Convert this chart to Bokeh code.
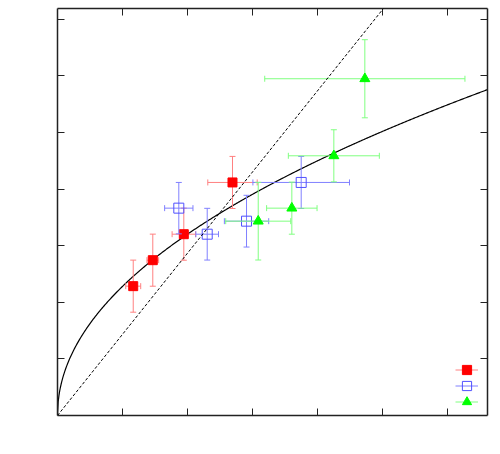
import numpy as np
from bokeh.plotting import figure
from bokeh.models import (Range1d, LinearAxis, FixedTicker, Slope, Legend,
                          LegendItem)
from bokeh.embed import file_html
from bokeh.resources import INLINE

# ---- data ----
red_x = [1.165, 1.466, 1.943, 2.692]
red_y = [2.285, 2.744, 3.203, 4.117]
red_xerr = [0.115, 0.09, 0.18, 0.38]
red_yerr = [0.46, 0.46, 0.46, 0.46]

blue_x = [1.866, 2.303, 2.908, 3.749]
blue_y = [3.663, 3.203, 3.433, 4.117]
blue_xerr = [0.218, 0.174, 0.341, 0.743]
blue_yerr = [0.454, 0.457, 0.457, 0.46]

green_x = [3.088, 3.605, 4.251, 4.728]
green_y = [3.433, 3.663, 4.588, 5.949]
green_xerr = [0.50, 0.388, 0.70, 1.54]
green_yerr = [0.686, 0.46, 0.46, 0.69]

x_ticks = [1, 2, 3, 4, 5, 6]
y_ticks = [1, 2, 3, 4, 5, 6, 7]
x_max = 6.615
y_max = 7.19

# model curve y = a * x**b and dashed diagonal y = k * x
curve_a = 2.281
curve_b = 0.49
diag_slope = 1.434

p = figure(frame_width=430, frame_height=407, output_backend="svg",
           toolbar_location=None, x_range=Range1d(0, x_max),
           y_range=Range1d(0, y_max), min_border_left=57, min_border_top=8,
           min_border_right=11, min_border_bottom=31)
p.grid.visible = False
p.outline_line_color = None
p.background_fill_color = "white"
p.border_fill_color = "white"

p.add_layout(LinearAxis(), "above")
p.add_layout(LinearAxis(), "right")
for ax in p.xaxis:
    ax.ticker = FixedTicker(ticks=x_ticks)
    ax.major_label_overrides = {t: "" for t in x_ticks}
for ax in p.yaxis:
    ax.ticker = FixedTicker(ticks=y_ticks)
    ax.major_label_overrides = {t: "" for t in y_ticks}
for ax in p.xaxis + p.yaxis:
    ax.major_tick_in = 7
    ax.major_tick_out = 0
    ax.minor_tick_line_color = None
    ax.axis_line_color = "#222222"
    ax.axis_line_width = 1.5
    ax.major_tick_line_color = "#222222"
    ax.major_label_standoff = 0

# curves
xs = np.linspace(0, x_max, 600)
p.line(xs, curve_a * xs ** curve_b, line_color="black", line_width=1.2)
p.add_layout(Slope(gradient=diag_slope, y_intercept=0, line_color="black",
                   line_width=1, line_dash="3 2"))

def series(xv, yv, xe, ye, color, barcolor, marker, fill, size):
    xv = np.array(xv); yv = np.array(yv); xe = np.array(xe); ye = np.array(ye)
    hx = p.segment(xv - xe, yv, xv + xe, yv, line_color=barcolor, line_width=1)
    p.segment(xv, yv - ye, xv, yv + ye, line_color=barcolor, line_width=1)
    p.scatter(np.concatenate([xv, xv]), np.concatenate([yv - ye, yv + ye]),
              marker="dash", size=6, line_color=barcolor, line_width=1)
    p.scatter(np.concatenate([xv - xe, xv + xe]), np.concatenate([yv, yv]),
              marker="dash", angle=np.pi / 2, size=6, line_color=barcolor,
              line_width=1)
    mk = p.scatter(xv, yv, marker=marker, size=size, line_color=color,
                   fill_color=fill, line_width=1)
    return [hx, mk]

r_red = series(red_x, red_y, red_xerr, red_yerr, "#ff0000", "#ff8080",
               "square", "#ff0000", 9)
r_blue = series(blue_x, blue_y, blue_xerr, blue_yerr, "#5050ff", "#8080ff",
                "square", None, 10)
r_green = series(green_x, green_y, green_xerr, green_yerr, "#00ff00", "#80ff80",
                 "triangle", "#00ff00", 10)

# one legend box per series, stacked in the lower right corner
for rends, ypos in [(r_red, 34), (r_blue, 18), (r_green, 2)]:
    lg = Legend(items=[LegendItem(label="", renderers=rends)],
                location=(398, ypos), border_line_color=None,
                background_fill_alpha=0, glyph_width=23, glyph_height=23,
                label_height=16, label_width=0, label_standoff=0, spacing=0,
                padding=0, margin=0, label_text_font_size="10px")
    p.add_layout(lg)

open("out.html", "w").write(file_html(p, INLINE))
